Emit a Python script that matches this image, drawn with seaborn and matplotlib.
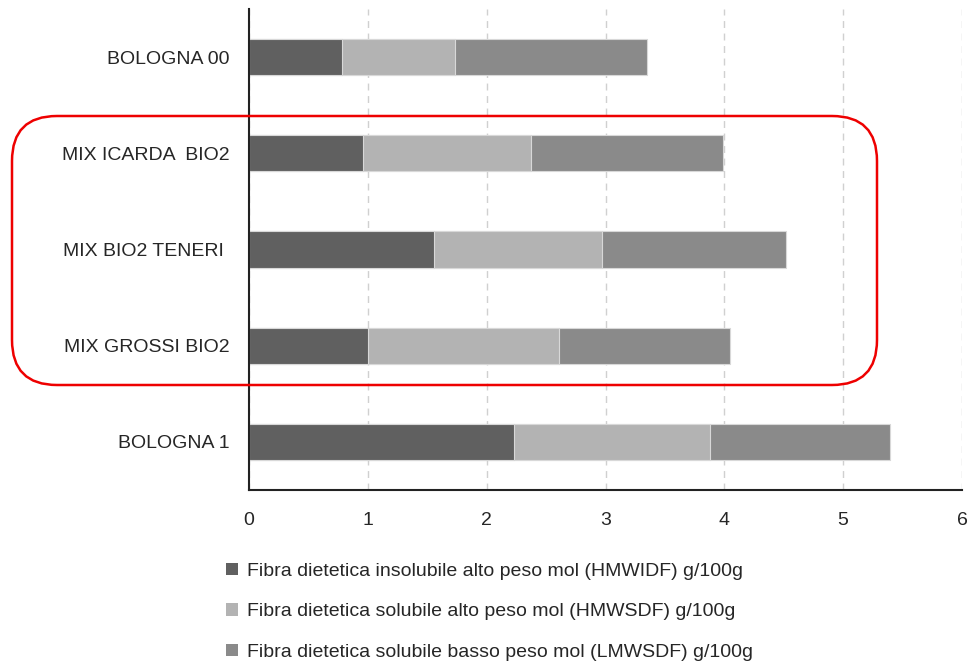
import matplotlib
matplotlib.use("Agg")
import matplotlib.pyplot as plt
import seaborn as sns
import pandas as pd
from matplotlib.patches import FancyBboxPatch, Patch

categories = ["BOLOGNA 00", "MIX ICARDA  BIO2", "MIX BIO2 TENERI ", "MIX GROSSI BIO2", "BOLOGNA 1"]
hmwidf = [0.78, 0.96, 1.56, 1.00, 2.23]
hmwsdf = [0.95, 1.41, 1.41, 1.61, 1.65]
lmwsdf = [1.62, 1.62, 1.55, 1.44, 1.51]
series_labels = [
    "Fibra dietetica insolubile alto peso mol (HMWIDF) g/100g",
    "Fibra dietetica solubile alto peso mol (HMWSDF) g/100g",
    "Fibra dietetica solubile basso peso mol (LMWSDF) g/100g",
]
xticks = [0, 1, 2, 3, 4, 5, 6]

colors = ["#606060", "#b3b3b3", "#8a8a8a"]

sns.set_style("white")
plt.rcParams["font.family"] = ["Liberation Sans", "DejaVu Sans"]

df = pd.DataFrame({"cat": categories, "a": hmwidf, "b": hmwsdf, "c": lmwsdf})
df["ab"] = df["a"] + df["b"]
df["abc"] = df["ab"] + df["c"]

fig = plt.figure(figsize=(9.72, 6.61), dpi=100)
ax = fig.add_axes([249/972, 1 - 490/661, (962 - 249)/972, (490 - 9)/661])

common = dict(y="cat", orient="h", order=categories, width=0.375, ax=ax,
              edgecolor="#d8d8d8", linewidth=0.8)
sns.barplot(data=df, x="abc", color=colors[2], saturation=1, **common)
sns.barplot(data=df, x="ab", color=colors[1], saturation=1, **common)
sns.barplot(data=df, x="a", color=colors[0], saturation=1, **common)

ax.set_xlim(0, 6)
ax.set_ylim(4.5, -0.5)
ax.set_xticks(xticks)
ax.set_xticklabels([str(t) for t in xticks], fontsize=14)
ax.set_xlabel("")
ax.set_ylabel("")
ax.tick_params(axis="y", length=0, pad=14, labelsize=14)
ax.tick_params(axis="x", length=0, pad=16)
ax.xaxis.grid(True, linestyle=(0, (5, 4)), color="#d0d0d0", linewidth=1.0)
ax.set_axisbelow(True)
for s in ["top", "right"]:
    ax.spines[s].set_visible(False)
ax.spines["left"].set_color("#222222")
ax.spines["left"].set_linewidth(1.5)
ax.spines["bottom"].set_color("#222222")
ax.spines["bottom"].set_linewidth(1.5)

handles = [Patch(facecolor=c, edgecolor="none") for c in colors]
fig.legend(handles, series_labels, loc="upper left", bbox_to_anchor=(226/972, 1 - 563/661),
           frameon=False, fontsize=14, handlelength=0.6, handleheight=0.6,
           handletextpad=0.5, labelspacing=1.2, borderaxespad=0, borderpad=0)

# red rounded highlight box (coordinates in inches)
box = FancyBboxPatch((0.12, (661 - 385) / 100), 8.65, (385 - 116) / 100,
                     boxstyle="round,pad=0,rounding_size=0.45", transform=fig.dpi_scale_trans,
                     fill=False, edgecolor="#ee0000", linewidth=1.8, clip_on=False)
fig.patches.append(box)

fig.savefig("out.png", dpi=100)
